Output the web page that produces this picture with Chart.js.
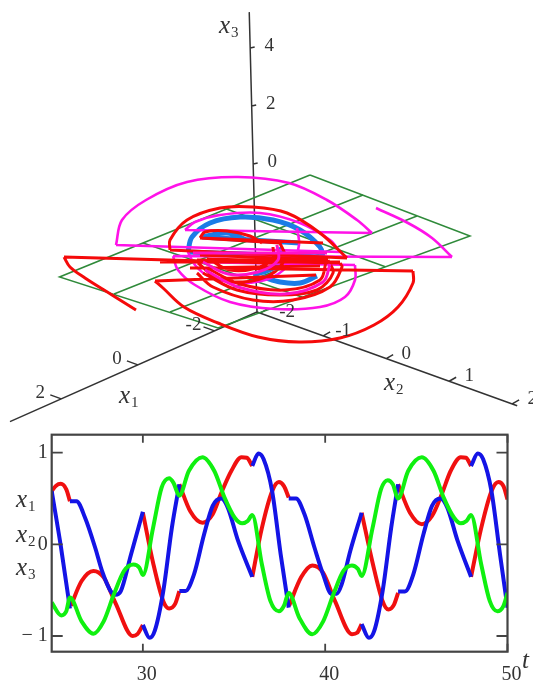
<!DOCTYPE html>
<html>
<head>
<meta charset="utf-8">
<script src="https://cdn.jsdelivr.net/npm/chart.js@4"></script>
<style>
  html, body { margin: 0; padding: 0; background: #fff; }
  canvas { position: absolute; left: 0; filter: blur(0.5px); }
  #phaseChart { top: 0; }
  #timeChart { top: 430px; }
</style>
</head>
<body>
<canvas id="phaseChart" width="533" height="430"></canvas>
<canvas id="timeChart" width="533" height="251"></canvas>
<script>
// Time series, lower panel (null = the curve jumps at a switching time)
const tRed = [25,25.24,25.5,25.8,26,null,26.05,26.64,27.29,27.85,28.5,29.44,29.7,30,null,30,30.56,31.12,31.44,31.77,32,null,32,32.6,33.27,33.83,34.3,34.85,35.41,35.7,36,null,36,36.53,37.09,37.46,37.74,38,null,38.02,38.68,39.29,39.89,40.54,41.47,41.75,42,null,42,42.6,43.15,43.47,43.77,44,null,44,44.65,45.3,45.86,46.42,46.88,47.44,47.72,48,null,48,48.56,49.12,49.5,49.78,50];
const yRed = [0.58,0.64,0.66,0.6,0.47,null,-0.67,-0.4,-0.29,-0.36,-0.64,-1,-0.98,-0.88,null,0.345,-0.2,-0.62,-0.7,-0.65,-0.51,null,0.655,0.36,0.235,0.33,0.56,0.8,0.95,0.945,0.855,null,-0.355,0.18,0.58,0.68,0.635,0.51,null,-0.67,-0.36,-0.23,-0.31,-0.62,-0.98,-0.965,-0.87,null,0.345,-0.2,-0.62,-0.71,-0.66,-0.53,null,0.655,0.345,0.22,0.31,0.56,0.8,0.95,0.945,0.855,null,-0.355,0.18,0.58,0.68,0.635,0.49];
const tBlue = [25,25.5,26,null,26,26.36,26.83,27.39,27.76,28.23,28.5,28.79,29.35,30,null,30,30.37,30.65,31.12,31.59,32,null,32,32.33,32.8,33.36,33.83,34.3,34.66,35.22,36,null,36,36.34,36.62,37.09,37.56,38,null,38,38.4,38.86,39.42,39.89,40.35,40.63,40.9,41.38,42,null,42,42.4,42.69,43.15,43.62,44,null,44,44.37,44.83,45.39,45.86,46.32,46.7,47.26,48,null,48,48.37,48.66,49.12,49.59,50];
const yBlue = [0.58,-0.02,-0.7,null,0.47,0.47,0.29,-0.04,-0.29,-0.51,-0.55,-0.51,-0.11,0.355,null,-0.88,-1.02,-0.945,-0.51,0.18,0.655,null,-0.51,-0.51,-0.33,0.11,0.42,0.5,0.4,0.04,-0.355,null,0.855,0.99,0.93,0.58,-0.11,-0.69,null,0.5,0.5,0.33,-0.04,-0.33,-0.54,-0.54,-0.44,-0.07,0.345,null,-0.87,-1.02,-0.945,-0.51,0.18,0.655,null,-0.515,-0.515,-0.33,0.11,0.42,0.5,0.4,0.04,-0.355,null,0.855,0.99,0.93,0.58,-0.11,-0.69];
const tGreen = [25,25.52,25.8,26,26.64,27.29,27.85,28.41,28.97,29.48,29.81,30,30.56,31.03,31.44,31.68,32,32.52,33.27,33.92,34.48,35.04,35.45,35.75,36,36.53,37,37.46,37.74,38,38.58,39.29,39.89,40.45,41,41.47,41.8,42,42.6,43.06,43.43,43.71,44,44.55,45.3,45.95,46.5,47.07,47.44,47.75,48,48.56,49.03,49.44,49.78,50];
const yGreen = [-0.635,-0.775,-0.73,-0.58,-0.84,-0.975,-0.84,-0.545,-0.29,-0.22,-0.255,-0.335,0.18,0.62,0.72,0.67,0.53,0.8,0.95,0.8,0.51,0.29,0.23,0.255,0.32,-0.22,-0.62,-0.73,-0.67,-0.53,-0.8,-0.98,-0.84,-0.545,-0.29,-0.23,-0.27,-0.345,0.18,0.6,0.7,0.655,0.5,0.8,0.95,0.8,0.51,0.29,0.23,0.255,0.32,-0.22,-0.62,-0.73,-0.67,-0.53];
const tTicks = [30, 40, 50];
const yTicks = [-1, 0, 1];

// Phase portrait, upper panel: axis ticks in model units
const x1Ticks = [-2, 0, 2];
const x2Ticks = [-2, -1, 0, 1, 2];
const x3Ticks = [0, 2, 4];

// Trajectory and plane, in view units (u right, v down)
const planeU = [31,47,21.8,5.95,31,null,36.3,11.4,null,41.7,17,null,22.65,38.6,null,14.3,30.2];
const planeV = [17.5,23.6,32.8,27.7,17.5,null,19.5,29.4,null,21.6,31.2,null,20.9,26.7,null,24.3,29.7];
const blueU = [18.8,19.2,21,24,27.3,30,32,32.3,null,18.8,32.3,null,26.3,28,30,31.7,null,20.2,22.7,24.7,null,20.2,30,null,28,28.3,27.3,25.3];
const blueV = [25.2,23.7,22.3,21.7,22,23,24.7,25.7,null,25.2,25.7,null,27.7,28.2,28.3,27.6,null,23.7,23.3,24,null,23.7,24.3,null,24.7,25.7,26.8,27.5];
const redU = [13.6,11.2,8.5,7,6.4,null,6.4,27.3,null,41.3,22,null,41.3,41.3,39.8,37.4,34,29.9,25.8,21.8,18.4,16.3,15.5,null,15.5,31.6,null,17,17,18.7,22,25.3,28.7,32,34.7,null,34.7,17,null,19.7,21.3,25.3,29.3,33,34.2,34,null,34,19.7,null,20.3,23.7,28,31.7,33.3,32.8,null,32.8,20,null,19.8,21.7,24.3,27,28.5,28,null,28,20,null,21,23,25.7,27.3,27.3,null,20,20.5,22.7,25,26.2,null,20,32.3,null,19,32,null,20.7,24,28.5,32,32.6,null,32.6,20.7,null,16,34];
const redV = [31,29.5,27.8,26.7,25.7,null,25.7,26.3,null,27.1,26.8,null,27.1,28.3,30.7,32.5,33.8,34.2,33.7,32.3,30.7,28.8,28.1,null,28.1,27.5,null,25,24,22,20.8,20.7,21.3,23.3,25.8,null,25.8,25,null,27.3,28.7,30,30,28.7,26.7,26.3,null,26.3,26,null,27.3,29,29.5,29,27.3,26,null,26,25.5,null,26.3,27.8,28.2,27.5,25.8,24.3,null,24.3,23.8,null,26,27,26.8,25.8,24.7,null,23.8,23.2,23.1,23.6,24.3,null,23.8,24.3,null,26.8,26.6,null,26.8,28.4,29,28,26.2,null,26.2,25.9,null,26.2,26.2];
const magentaU = [37.6,40.8,43.2,45.2,null,45.2,17.3,null,17.3,17.8,19.5,23,27.5,32,34.5,35.5,35.5,null,35.5,19,null,11.6,34,null,34,33,30,26,22,19.5,18.5,null,18.5,37.2,null,37.2,35.7,32.7,28.9,23.8,18.7,14.6,12.2,11.6,null,29.7,29.9,29.3,27.3,24.3,21,19.5,18.7];
const magentaV = [20.8,22.3,23.8,25.7,null,25.7,25.6,null,25.6,27,28.5,30.2,30.9,30.7,29.7,28,26.5,null,26.5,26.2,null,24.5,25.2,null,25.2,24,22.3,21.3,21.5,22.2,23,null,23,23.3,null,23.3,22,20,18.3,17.7,18.2,20,22,24.5,null,22.8,24.5,26,27.7,28.3,27.7,26.5,25];
// Thick inner turns that sit on top of the red ones
const innerU = [20.3,22.8,25.8,27.8,27.7,null,20.5,23.8,28.5,32.3,33,null,19.3,32.7];
const innerV = [26.2,27.4,27.2,26,24.5,null,27,28.7,29.4,28.2,26.4,null,25.3,25.3];

// Projection of model coordinates to view units, fitted on the axis ticks
function project(x1, x2, x3) {
    return {
        x: (257 - (x1 + 3.11) * 38.3 + (x2 + 2.05) * 63 - (x3 + 5.1) * 0.75) / 10,
        y: (312 + (x1 + 3.11) * 17 + (x2 + 2.05) * 22.7 - (x3 + 5.1) * 29) / 10
    };
}

function toPoints(xs, ys) {
    return xs.map((x, i) => ({ x: x, y: ys[i] }));
}

// Axis line plus its little tick marks, as one dataset
function axisPoints(end, ticks, dx, dy) {
    const pts = [project(-3.11, -2.05, -5.1), end, { x: null, y: null }];
    ticks.forEach(p => {
        pts.push(p, { x: p.x + dx, y: p.y + dy }, { x: null, y: null });
    });
    return pts;
}

function subLabel(ctx, name, sub, x, y) {
    ctx.fillStyle = '#333';
    ctx.textAlign = 'left';
    ctx.textBaseline = 'alphabetic';
    ctx.font = 'italic 25px "Liberation Serif"';
    ctx.fillText(name, x, y);
    ctx.font = '15px "Liberation Serif"';
    ctx.fillText(sub, x + 12, y + 4);
}

const phaseLabels = {
    id: 'phaseLabels',
    afterDraw(chart) {
        const ctx = chart.ctx;
        const sx = chart.scales.x, sy = chart.scales.y;
        ctx.save();
        ctx.fillStyle = '#333';
        ctx.font = '19px "Liberation Serif"';
        ctx.textAlign = 'center';
        ctx.textBaseline = 'middle';
        const put = (p, dx, dy, txt) => ctx.fillText(txt, sx.getPixelForValue(p.x) + dx, sy.getPixelForValue(p.y) + dy);
        x3Ticks.forEach(v => put(project(-3.11, -2.05, v), 19, -2, String(v)));
        x1Ticks.forEach(v => put(project(v, -2.05, -5.1), -21, -6, String(v)));
        x2Ticks.forEach(v => put(project(-3.11, v, -5.1), v === -2 ? 27 : 20, v === -2 ? -1 : -5, String(v)));
        subLabel(ctx, 'x', '3', 219, 33);
        subLabel(ctx, 'x', '1', 119, 403);
        subLabel(ctx, 'x', '2', 384, 390);
        ctx.restore();
    }
};

const trajectoryStyle = { showLine: true, pointRadius: 0, tension: 0.35, spanGaps: false };

new Chart(document.getElementById('phaseChart'), {
    type: 'scatter',
    data: {
        datasets: [
            { data: axisPoints(project(3.34, -2.05, -5.1), x1Ticks.map(v => project(v, -2.05, -5.1)), -1.1, -0.4), showLine: true, pointRadius: 0, borderColor: '#333', borderWidth: 1.5, order: 6 },
            { data: axisPoints(project(-3.11, 2.08, -5.1), x2Ticks.map(v => project(-3.11, v, -5.1)), 0.7, -0.4), showLine: true, pointRadius: 0, borderColor: '#333', borderWidth: 1.5, order: 6 },
            { data: axisPoints(project(-3.11, -2.05, 5.24), x3Ticks.map(v => project(-3.11, -2.05, v)), 0.45, -0.1), showLine: true, pointRadius: 0, borderColor: '#333', borderWidth: 1.5, order: 6 },
            { data: toPoints(planeU, planeV), showLine: true, pointRadius: 0, borderColor: '#2f8a3a', borderWidth: 1.5, order: 5 },
            { data: toPoints(blueU, blueV), ...trajectoryStyle, borderColor: '#1c7ce6', borderWidth: 5, order: 4 },
            { data: toPoints(magentaU, magentaV), ...trajectoryStyle, borderColor: '#ff12e8', borderWidth: 2.6, order: 3 },
            { data: toPoints(redU, redV), ...trajectoryStyle, borderColor: '#f50a0a', borderWidth: 3, order: 2 },
            { data: toPoints(innerU, innerV), ...trajectoryStyle, borderColor: '#ff12c8', borderWidth: 3, order: 1 }
        ]
    },
    options: {
        responsive: false,
        animation: false,
        layout: { padding: 0 },
        plugins: { legend: { display: false }, tooltip: { enabled: false } },
        scales: {
            x: { type: 'linear', display: false, min: 0, max: 53.3 },
            y: { type: 'linear', display: false, min: 0, max: 43, reverse: true }
        }
    },
    plugins: [phaseLabels]
});

// Frame, inward ticks and variable names of the lower panel
const timeFrame = {
    id: 'timeFrame',
    afterDatasetsDraw(chart) {
        const ctx = chart.ctx;
        const a = chart.chartArea;
        ctx.save();
        ctx.strokeStyle = '#444';
        ctx.lineWidth = 2.2;
        ctx.strokeRect(a.left, a.top, a.right - a.left, a.bottom - a.top);
        ctx.lineWidth = 1.8;
        ctx.beginPath();
        tTicks.forEach(v => {
            const p = chart.scales.x.getPixelForValue(v);
            ctx.moveTo(p, a.top); ctx.lineTo(p, a.top + 8);
            ctx.moveTo(p, a.bottom); ctx.lineTo(p, a.bottom - 8);
        });
        yTicks.forEach(v => {
            const p = chart.scales.y.getPixelForValue(v);
            ctx.moveTo(a.left, p); ctx.lineTo(a.left + 11, p);
            ctx.moveTo(a.right, p); ctx.lineTo(a.right - 11, p);
        });
        ctx.stroke();
        subLabel(ctx, 'x', '1', 16, 77);
        subLabel(ctx, 'x', '2', 16, 112);
        subLabel(ctx, 'x', '3', 16, 145);
        ctx.font = 'italic 25px "Liberation Serif"';
        ctx.fillText('t', 522, 238);
        ctx.restore();
    }
};

const curveStyle = { showLine: true, pointRadius: 0, borderWidth: 4, cubicInterpolationMode: 'monotone', spanGaps: false };

new Chart(document.getElementById('timeChart'), {
    type: 'scatter',
    data: {
        datasets: [
            { data: toPoints(tRed, yRed), ...curveStyle, borderColor: '#f01010', order: 3 },
            { data: toPoints(tBlue, yBlue), ...curveStyle, borderColor: '#1414e6', order: 2 },
            { data: toPoints(tGreen, yGreen), ...curveStyle, borderColor: '#10f010', order: 1 }
        ]
    },
    options: {
        responsive: false,
        animation: false,
        layout: { padding: { left: 0, right: 25.5, top: 4.7, bottom: 0 } },
        plugins: { legend: { display: false }, tooltip: { enabled: false } },
        scales: {
            x: {
                type: 'linear', min: 25, max: 50,
                grid: { display: false, tickLength: 0 }, border: { display: false },
                afterBuildTicks: s => { s.ticks = tTicks.map(v => ({ value: v })); },
                afterFit: s => { s.height = 29.3; s.paddingLeft = 0; s.paddingRight = 0; },
                ticks: { color: '#333', font: { family: 'Liberation Serif', size: 20 }, padding: 11, maxRotation: 0, labelOffset: 4 }
            },
            y: {
                type: 'linear', min: -1.171, max: 1.196,
                grid: { display: false, tickLength: 0 }, border: { display: false },
                afterBuildTicks: s => { s.ticks = yTicks.map(v => ({ value: v })); },
                afterFit: s => { s.width = 51.7; s.paddingTop = 0; s.paddingBottom = 0; },
                ticks: { color: '#333', font: { family: 'Liberation Serif', size: 20 }, padding: 4,
                    callback: v => v < 0 ? '\u2212 ' + Math.abs(v) : String(v) }
            }
        }
    },
    plugins: [timeFrame]
});
</script>
</body>
</html>
